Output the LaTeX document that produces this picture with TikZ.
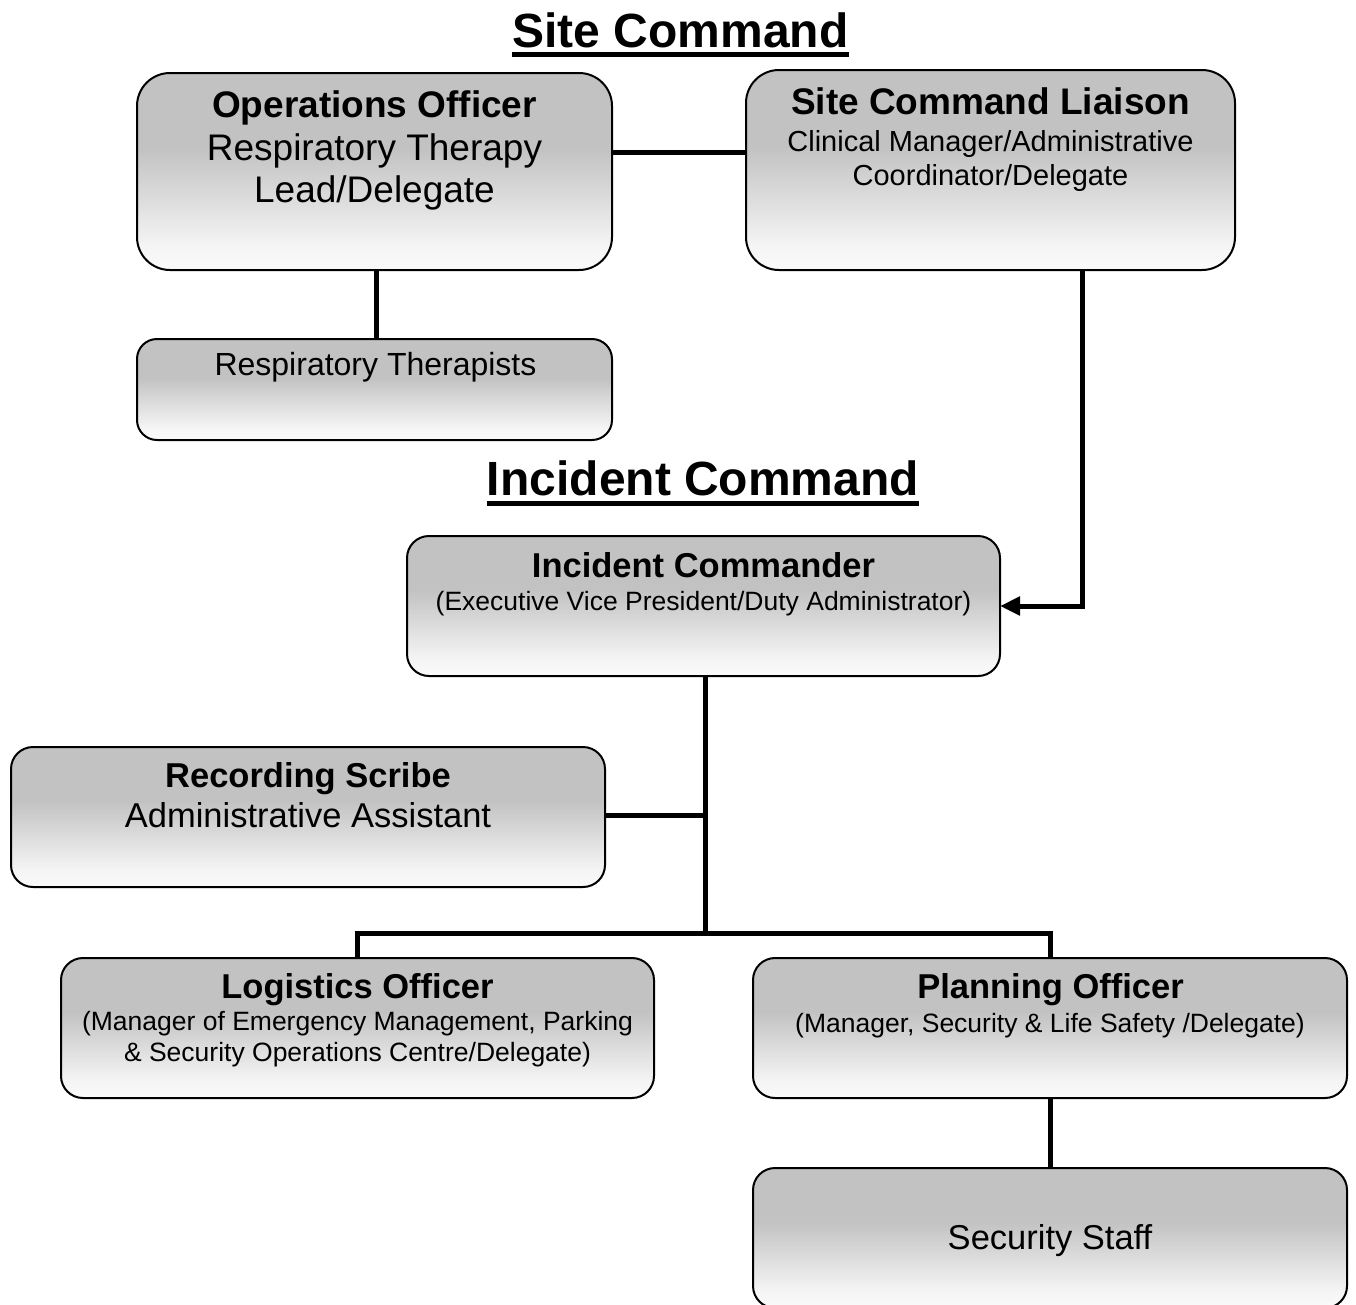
\documentclass[tikz,border=0pt]{standalone}
\usepackage{fontspec}
\setmainfont{Liberation Sans}
\usetikzlibrary{arrows.meta}
\pgfdeclareverticalshading{boxgrad}{100bp}{color(0bp)=(white); color(25bp)=(white!98!black); color(31bp)=(white!96!black); color(56bp)=(black!24); color(100bp)=(black!24)}
\newcommand{\fsz}[1]{\fontsize{#1}{#1}\selectfont}
\begin{document}
\begin{tikzpicture}[x=1pt,y=-1pt,
  boxst/.style={draw, line width=2pt, shade, shading=boxgrad, inner sep=0pt, outer sep=0pt, rounded corners=#1},
  txt/.style={anchor=base, inner sep=0pt, outer sep=0pt},
  conn/.style={line width=5pt, line join=miter},
  uline/.style={line width=5pt}]
\clip (0,0) rectangle (1356,1304);
\useasboundingbox (0,0) rectangle (1356,1304);

% titles
\node[txt, font=\bfseries\fsz{48}] (t1) at (680.5,47) {Site Command};
\draw[uline] ([yshift=-7.5pt]t1.base west) -- ([yshift=-7.5pt]t1.base east);
\node[txt, font=\bfseries\fsz{48}] (t2) at (703,495) {Incident Command};
\draw[uline] ([yshift=-8.5pt]t2.base west) -- ([yshift=-8.5pt]t2.base east);

% boxes
\node[boxst=33pt, minimum width=475pt, minimum height=197pt] (ops) at (374.5,171.5) {};
\node[boxst=33pt, minimum width=489pt, minimum height=200pt] (lia) at (990.5,170) {};
\node[boxst=20pt, minimum width=475pt, minimum height=101pt] (resp) at (374.5,389.5) {};
\node[boxst=22pt, minimum width=593pt, minimum height=140pt] (ic) at (703.5,606) {};
\node[boxst=22pt, minimum width=594pt, minimum height=140pt] (scr) at (308,817) {};
\node[boxst=22pt, minimum width=593pt, minimum height=140pt] (log) at (357.5,1028) {};
\node[boxst=22pt, minimum width=594pt, minimum height=140pt] (plan) at (1050,1028) {};
\node[boxst=22pt, minimum width=594pt, minimum height=140pt] (sec) at (1050,1238) {};

% texts
\node[txt, font=\bfseries\fsz{37}] (opsA) at (374.5,117) {Operations Officer};
\node[txt, font=\fsz{37}] (opsB) at (374.5,160) {Respiratory Therapy};
\node[txt, font=\fsz{37}] (opsC) at (374.5,202) {Lead/Delegate};

\node[txt, font=\bfseries\fsz{37}] (liaA) at (990.5,114) {Site Command Liaison};
\node[txt, font=\fsz{29}] (liaB) at (990.5,151) {Clinical Manager/Administrative};
\node[txt, font=\fsz{29}] (liaC) at (990.5,185) {Coordinator/Delegate};

\node[txt, font=\fsz{32}] (respA) at (375.5,375) {Respiratory Therapists};

\node[txt, font=\bfseries\fsz{34.5}] (icA) at (703.5,577) {Incident Commander};
\node[txt, font=\fsz{26.5}] (icB) at (703.5,610) {(Executive Vice President/Duty Administrator)};

\node[txt, font=\bfseries\fsz{34.5}] (scrA) at (308,787) {Recording Scribe};
\node[txt, font=\fsz{34.5}] (scrB) at (308,827) {Administrative Assistant};

\node[txt, font=\bfseries\fsz{34.5}] (logA) at (357.5,998) {Logistics Officer};
\node[txt, font=\fsz{26.5}] (logB) at (357.5,1030) {(Manager of Emergency Management, Parking};
\node[txt, font=\fsz{26.5}] (logC) at (357.5,1061) {\& Security Operations Centre/Delegate)};

\node[txt, font=\bfseries\fsz{34.5}] (planA) at (1050.5,998) {Planning Officer};
\node[txt, font=\fsz{26.5}] (planB) at (1050,1032) {(Manager, Security \& Life Safety /Delegate)};

\node[txt, font=\fsz{34.5}] (secA) at (1050,1249) {Security Staff};

% connectors
\coordinate (bus) at (705,933);
\draw[conn] ([yshift=19.5pt]ops.east) -- ([yshift=18pt]lia.west);
\draw[conn] ([xshift=1.5pt]ops.south) -- ([xshift=1.5pt]resp.north);
\draw[conn, -{Triangle[length=20pt,width=18pt]}] ([xshift=91.5pt]lia.south) |- (ic.east);
\draw[conn] ([xshift=1.5pt]ic.south) -- (bus);
\draw[conn] ([yshift=2pt]scr.east) -- ([yshift=2pt]scr.east -| bus);
\draw[conn] (log.north) |- (bus) -| (plan.north);
\draw[conn] (plan.south) -- (sec.north);
\end{tikzpicture}
\end{document}
